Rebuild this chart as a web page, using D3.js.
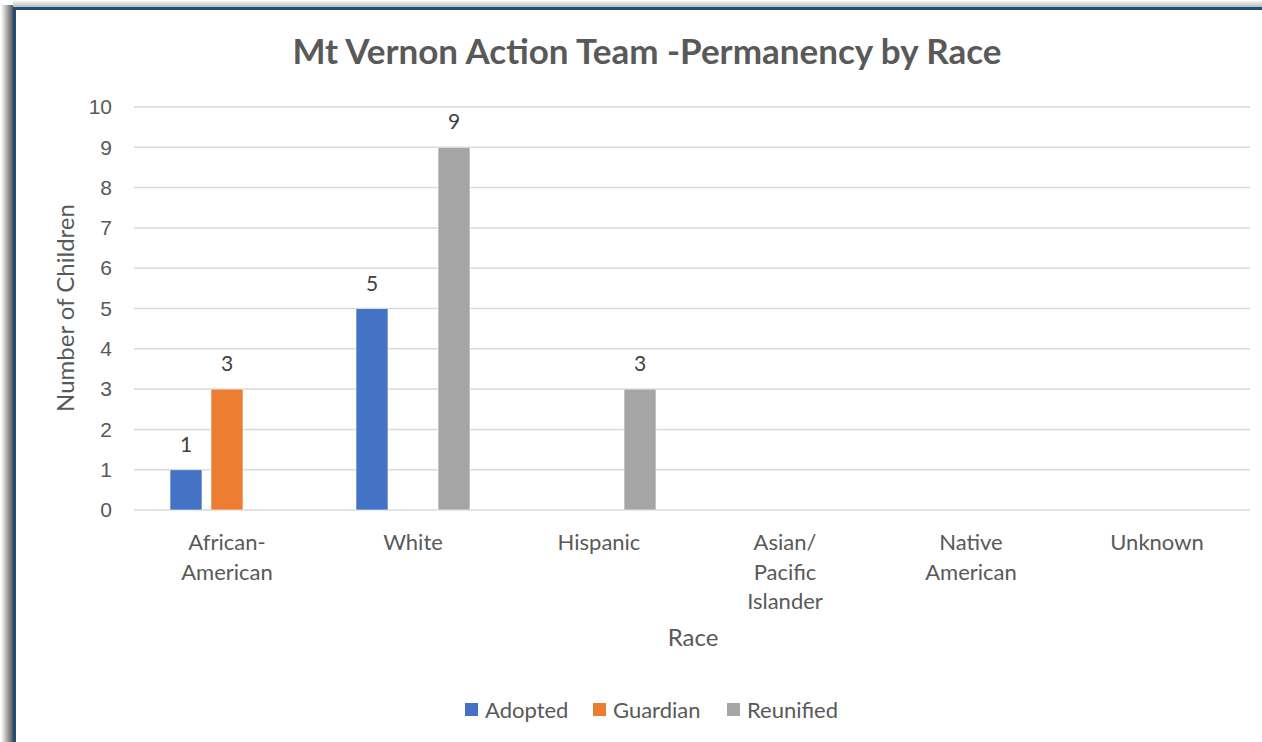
<!DOCTYPE html>
<html>
<head>
<meta charset="utf-8">
<script src="https://cdn.jsdelivr.net/npm/d3@7"></script>
<style>
  body { margin: 0; background: #fff; }
  svg { display: block; font-family: Lato, "Open Sans", sans-serif; }
</style>
</head>
<body>
<div id="chart"></div>
<script>
const width = 1262;
const height = 742;
const margin = { top: 107, right: 12, bottom: 232, left: 134 };

// Data
const races = ["African-American", "White", "Hispanic", "Asian/Pacific Islander", "Native American", "Unknown"];
const raceLines = [["African-", "American"], ["White"], ["Hispanic"], ["Asian/", "Pacific", "Islander"], ["Native", "American"], ["Unknown"]];
const seriesNames = ["Adopted", "Guardian", "Reunified"];
const adopted = [1, 5, null, null, null, null];
const guardian = [3, null, null, null, null, null];
const reunified = [null, 9, 3, null, null, null];
const yTicks = [0, 1, 2, 3, 4, 5, 6, 7, 8, 9, 10];
const colors = ["#4472C4", "#ED7D31", "#A5A5A5"];

const seriesValues = [adopted, guardian, reunified];

const svg = d3.select("#chart")
  .append("svg")
  .attr("width", width)
  .attr("height", height);

// Frame shadow + border
const defs = svg.append("defs");
const gl = defs.append("linearGradient").attr("id", "shadowLeft")
  .attr("x1", "0").attr("x2", "1").attr("y1", "0").attr("y2", "0");
gl.append("stop").attr("offset", "0").attr("stop-color", "#fff");
gl.append("stop").attr("offset", "1").attr("stop-color", "#555");
const gt = defs.append("linearGradient").attr("id", "shadowTop")
  .attr("x1", "0").attr("x2", "0").attr("y1", "0").attr("y2", "1");
gt.append("stop").attr("offset", "0").attr("stop-color", "#fff");
gt.append("stop").attr("offset", "1").attr("stop-color", "#bbb");

svg.append("rect").attr("x", 1).attr("y", 5).attr("width", 12).attr("height", height)
  .attr("fill", "url(#shadowLeft)");
svg.append("rect").attr("x", 13).attr("y", 0).attr("width", width).attr("height", 7)
  .attr("fill", "url(#shadowTop)");
svg.append("rect").attr("x", 13).attr("y", 7).attr("width", 3).attr("height", height)
  .attr("fill", "#1F4E79");
svg.append("rect").attr("x", 13).attr("y", 7).attr("width", width).attr("height", 3)
  .attr("fill", "#1F4E79");

// Scales
const x = d3.scaleBand()
  .domain(races)
  .range([margin.left, width - margin.right]);

const xInner = d3.scaleBand()
  .domain(seriesNames)
  .range([0, 114])
  .paddingInner(0.22);

const y = d3.scaleLinear()
  .domain([0, 10])
  .range([height - margin.bottom, margin.top]);

// Gridlines
svg.append("g")
  .selectAll("line")
  .data(yTicks)
  .join("line")
  .attr("x1", margin.left)
  .attr("x2", width - margin.right)
  .attr("y1", d => y(d))
  .attr("y2", d => y(d))
  .attr("stroke", "#D9D9D9")
  .attr("stroke-width", 1.5);

// Y axis
const yAxis = svg.append("g")
  .attr("transform", `translate(${margin.left},0)`)
  .call(d3.axisLeft(y).tickValues(yTicks).tickSize(0).tickPadding(22));
yAxis.select(".domain").remove();
yAxis.selectAll("text")
  .attr("fill", "#595959")
  .attr("font-size", "21px");

// Bars
seriesNames.forEach((s, si) => {
  const data = races.map((r, i) => ({ race: r, value: seriesValues[si][i] }))
    .filter(d => d.value != null);
  const g = svg.append("g");
  const off = (x.bandwidth() - 114) / 2;
  g.selectAll("rect")
    .data(data)
    .join("rect")
    .attr("x", d => x(d.race) + off + xInner(s))
    .attr("y", d => y(d.value))
    .attr("width", xInner.bandwidth())
    .attr("height", d => y(0) - y(d.value))
    .attr("fill", colors[si])
    .attr("stroke", "#fff")
    .attr("stroke-opacity", 0.6)
    .attr("stroke-width", 1);
  g.selectAll("text")
    .data(data)
    .join("text")
    .attr("x", d => x(d.race) + off + xInner(s) + xInner.bandwidth() / 2)
    .attr("y", d => y(d.value) - 18)
    .attr("text-anchor", "middle")
    .attr("fill", "#404040")
    .attr("font-size", "21px")
    .text(d => d.value);
});

// Category labels
const catG = svg.append("g");
races.forEach((r, i) => {
  const t = catG.append("text")
    .attr("x", x(r) + x.bandwidth() / 2)
    .attr("y", 550)
    .attr("text-anchor", "middle")
    .attr("fill", "#595959")
    .attr("font-size", "22px");
  raceLines[i].forEach((line, li) => {
    t.append("tspan")
      .attr("x", x(r) + x.bandwidth() / 2)
      .attr("dy", li === 0 ? 0 : 29.5)
      .text(line);
  });
});

// Title
svg.append("text")
  .attr("x", 647)
  .attr("y", 64)
  .attr("text-anchor", "middle")
  .attr("fill", "#595959")
  .attr("font-size", "35px")
  .attr("font-weight", "bold")
  .text("Mt Vernon Action Team -Permanency by Race");

// Axis titles
svg.append("text")
  .attr("x", 693)
  .attr("y", 646)
  .attr("text-anchor", "middle")
  .attr("fill", "#595959")
  .attr("font-size", "24px")
  .text("Race");

svg.append("text")
  .attr("transform", "rotate(-90)")
  .attr("x", -308)
  .attr("y", 74)
  .attr("text-anchor", "middle")
  .attr("fill", "#595959")
  .attr("font-size", "24px")
  .text("Number of Children");

// Legend
const legendX = [465, 593, 727];
const legend = svg.append("g");
seriesNames.forEach((s, i) => {
  legend.append("rect")
    .attr("x", legendX[i])
    .attr("y", 703)
    .attr("width", 13)
    .attr("height", 13)
    .attr("fill", colors[i]);
  legend.append("text")
    .attr("x", legendX[i] + 20)
    .attr("y", 718)
    .attr("fill", "#595959")
    .attr("font-size", "22px")
    .text(s);
});
</script>
</body>
</html>
